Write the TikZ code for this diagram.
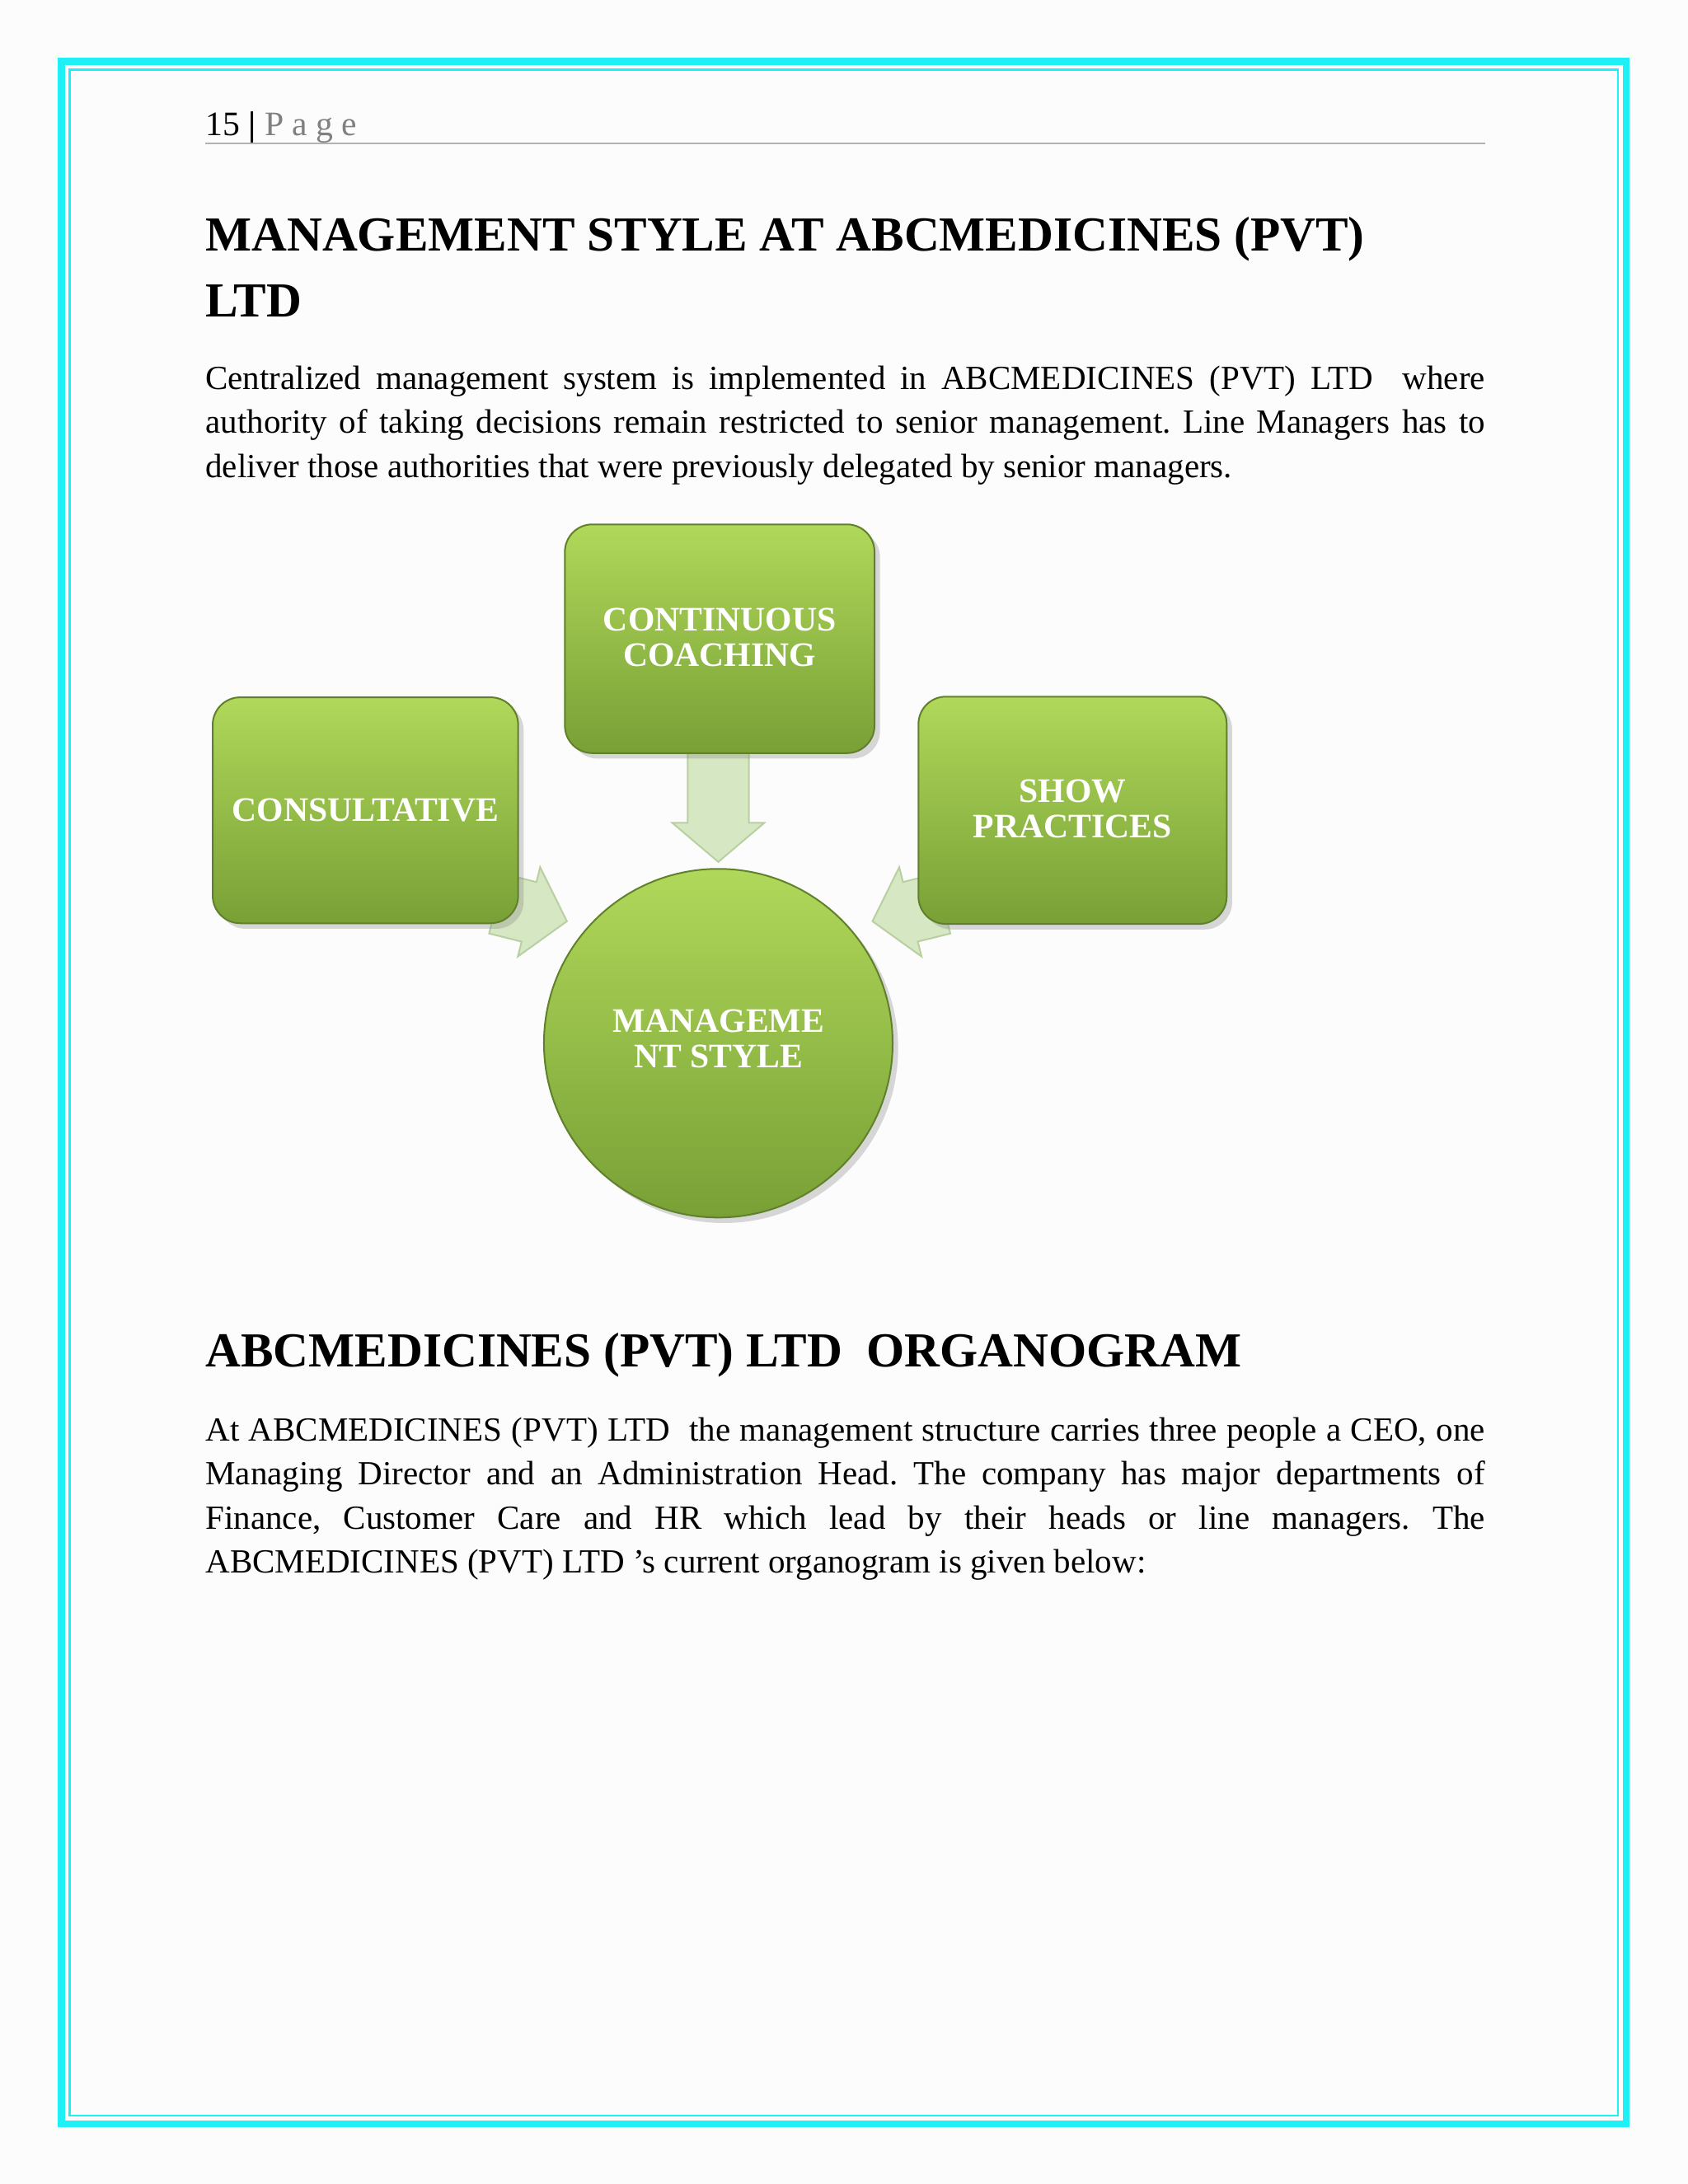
\documentclass[tikz,border=0pt]{standalone}
\usepackage{fontspec}
\setmainfont{Liberation Serif}
\usetikzlibrary{shadows}
\hyphenpenalty=10000
\frenchspacing
\definecolor{cy}{HTML}{1EF0F5}
\definecolor{gtop}{HTML}{B0D85A}
\definecolor{gbot}{HTML}{78A036}
\definecolor{arf}{HTML}{D6E7C3}
\definecolor{ard}{HTML}{B9CFA0}
\tikzset{
 gbox/.style={draw=gbot!80!black, line width=0.6pt, rounded corners=10pt, top color=gtop, bottom color=gbot, drop shadow={opacity=0.3,shadow xshift=2pt,shadow yshift=-2pt}},
 btext/.style={text=white, font=\bfseries\fontsize{12.5}{13}\selectfont, align=center},
 para/.style={anchor=north west, inner sep=0pt, text width=464bp, align=justify, font=\fontsize{12.3}{16}\selectfont},
 ttl/.style={anchor=base west, inner sep=0pt, font=\bfseries\fontsize{17.8}{20}\selectfont},
 fat/.style={fill=arf, draw=ard, line width=0.6pt}
}
\newcommand{\fatarrow}[4]{% x y angle length
 \begin{scope}[shift={(#1,#2)}, rotate=#3]
 \path[fat] (0,-22) -- (#4-28,-22) -- (#4-28,-33) -- (#4,0) -- (#4-28,33) -- (#4-28,22) -- (0,22) -- cycle;
 \end{scope}}
\begin{document}
\begin{tikzpicture}[x=0.5058bp,y=-0.5058bp]
\useasboundingbox (0,0) rectangle (1210,1566);
\fill[white!98!gray] (0,0) rectangle (1210,1566);
\draw[cy, line width=2.5bp] (44,44) rectangle (1166,1523);
\draw[cy, line width=0.8bp] (50,50) rectangle (1160,1517);
\node[anchor=base west, inner sep=0pt, font=\fontsize{12.5}{14}\selectfont] (hdr) at (147,97) {15 \textbf{|} \textcolor{gray}{P a g e}};
\draw[gray!60, line width=0.5bp] (147,103) -- (1065,103);
\node[ttl] (t1) at (147,180) {MANAGEMENT STYLE AT ABCMEDICINES (PVT)};
\node[ttl] (t1b) at (147,227) {LTD};
\node[para] (p1) at (147,262) {Centralized management system is implemented in ABCMEDICINES (PVT) LTD\ \ where\linebreak authority of taking decisions remain restricted to senior management. Line Managers has to\linebreak deliver those authorities that were previously delegated by senior managers.};
% diagram
\fatarrow{515}{538}{-90}{80}
\fatarrow{356}{648}{-14}{52}
\fatarrow{676}{648}{194}{52}
\node[gbox, minimum width=219*0.5058bp, minimum height=162*0.5058bp] (cons) at (262,581) {};
\node[btext] at (cons) {CONSULTATIVE};
\node[gbox, minimum width=222*0.5058bp, minimum height=164*0.5058bp] (coach) at (516,458) {};
\node[btext] at (516,457) {CONTINUOUS\\COACHING};
\node[gbox, minimum width=221*0.5058bp, minimum height=163*0.5058bp] (show) at (769,581) {};
\node[btext] at (769,580) {SHOW\\PRACTICES};
\node[circle, draw=gbot!80!black, line width=0.6pt, top color=gtop, bottom color=gbot, minimum size=250*0.5058bp, inner sep=0pt, drop shadow={opacity=0.3,shadow xshift=2pt,shadow yshift=-2pt}] (ms) at (515,748) {};
\node[btext] at (515,745) {MANAGEME\\NT STYLE};
\node[ttl] (t2) at (147,980) {ABCMEDICINES (PVT) LTD\ \ ORGANOGRAM};
\node[para] (p2) at (147,1016) {At ABCMEDICINES (PVT) LTD\ \ the management structure carries three people a CEO, one\linebreak Managing Director and an Administration Head. The company has major departments of\linebreak Finance, Customer Care and HR which lead by their heads or line managers. The\linebreak ABCMEDICINES (PVT) LTD 's current organogram is given below:};
\end{tikzpicture}
\end{document}
